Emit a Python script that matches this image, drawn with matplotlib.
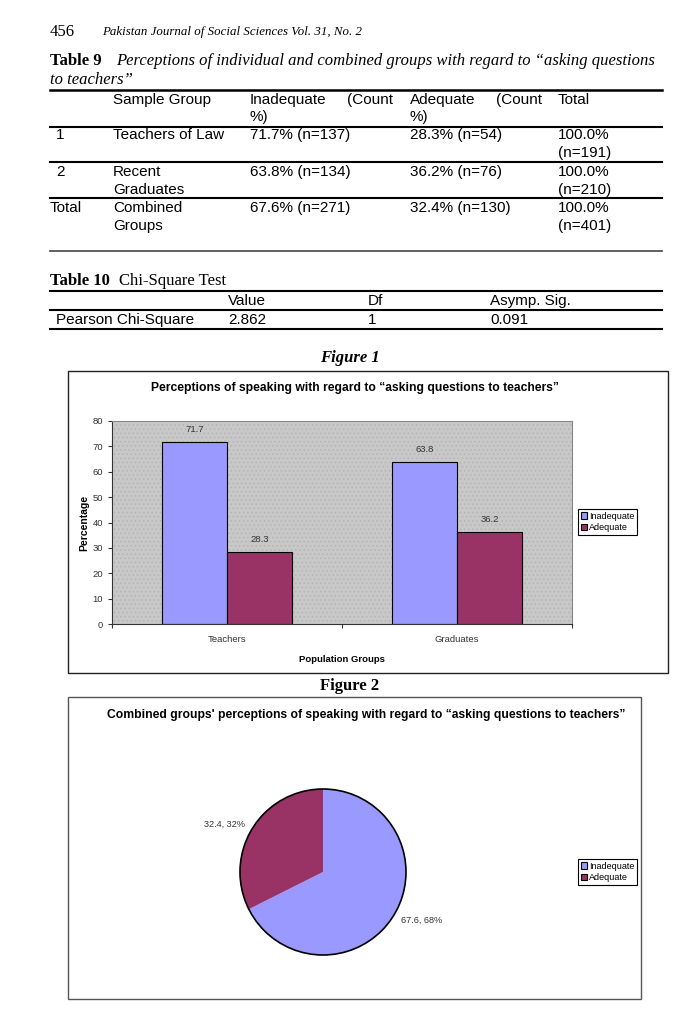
import matplotlib.pyplot as plt
from matplotlib.patches import Rectangle, Circle
from matplotlib.lines import Line2D
import numpy as np

# table 9
row_ids = ["1", "2", "Total"]
sample_groups = [["Teachers of Law"], ["Recent", "Graduates"], ["Combined", "Groups"]]
inadequate_cells = ["71.7% (n=137)", "63.8% (n=134)", "67.6% (n=271)"]
adequate_cells = ["28.3% (n=54)", "36.2% (n=76)", "32.4% (n=130)"]
total_cells = [["100.0%", "(n=191)"], ["100.0%", "(n=210)"], ["100.0%", "(n=401)"]]

# table 10
chi_headers = ["Value", "Df", "Asymp. Sig."]
chi_row = ["Pearson Chi-Square", "2.862", "1", "0.091"]

# figure 1
groups = ["Teachers", "Graduates"]
inadequate = [71.7, 63.8]
adequate = [28.3, 36.2]

# figure 2
pie_labels = ["Inadequate", "Adequate"]
pie_values = [67.6, 32.4]

c_inad = "#9999ff"
c_adeq = "#993366"
serif = "Liberation Serif"
sans = "Liberation Sans"
plt.rcParams["hatch.linewidth"] = 0.6

W, H = 700, 1010
fig = plt.figure(figsize=(7, 10.1), dpi=100)


def T(x, y, s, **kw):
    kw.setdefault("va", "center")
    return fig.text(x / W, 1 - y / H, s, **kw)


def hline(y, x0=50, x1=662, lw=1.5, color="black"):
    fig.add_artist(Line2D([x0 / W, x1 / W], [1 - y / H] * 2, lw=lw, color=color))


# page header
T(50, 32, "456", family=serif, size=12)
T(102, 32, "Pakistan Journal of Social Sciences Vol. 31, No. 2", family=serif, style="italic", size=9.3)

# ---- Table 9
cs = 12
T(50, 61, "Table 9", family=serif, weight="bold", size=cs)
T(116, 61, "Perceptions of individual and combined groups with regard to \u201casking questions",
  family=serif, style="italic", size=cs)
T(50, 80, "to teachers\u201d", family=serif, style="italic", size=cs)

ts = 11
hline(90, lw=1.8)
T(113, 100, "Sample Group", family=sans, size=ts)
T(250, 100, "Inadequate", family=sans, size=ts)
T(393, 100, "(Count", family=sans, size=ts, ha="right")
T(250, 117, "%)", family=sans, size=ts)
T(410, 100, "Adequate", family=sans, size=ts)
T(542, 100, "(Count", family=sans, size=ts, ha="right")
T(410, 117, "%)", family=sans, size=ts)
T(558, 100, "Total", family=sans, size=ts)
hline(127)

row_y = [135, 172, 208]
for i in range(3):
    y = row_y[i]
    T(56 if i < 2 else 50, y, row_ids[i], family=sans, size=ts, ha="left")
    for j, s in enumerate(sample_groups[i]):
        T(113, y + 18 * j, s, family=sans, size=ts)
    T(250, y, inadequate_cells[i], family=sans, size=ts)
    T(410, y, adequate_cells[i], family=sans, size=ts)
    for j, s in enumerate(total_cells[i]):
        T(558, y + 18 * j, s, family=sans, size=ts)
hline(162)
hline(198)
hline(251, lw=1.2, color="#444444")

# ---- Table 10
T(50, 281, "Table 10", family=serif, weight="bold", size=cs)
T(119, 281, "Chi-Square Test", family=serif, size=cs)
hline(291)
for s, x in zip(chi_headers, [228, 368, 490]):
    T(x, 301, s, family=sans, size=ts)
hline(310)
for s, x in zip(chi_row, [56, 228, 368, 490]):
    T(x, 320, s, family=sans, size=ts)
hline(329)

# ---- Figure 1
T(350, 358, "Figure 1", family=serif, weight="bold", style="italic", size=cs, ha="center")
fig.add_artist(Rectangle((68 / W, 1 - 673 / H), 600 / W, 302 / H, transform=fig.transFigure,
                         fill=False, ec="#222222", lw=1))
T(355, 388, "Perceptions of speaking with regard to \u201casking questions to teachers\u201d",
  family=sans, weight="bold", size=8.7, ha="center")

ax = fig.add_axes([112 / W, 1 - 624 / H, 460 / W, 203 / H])
ax.patch.set_facecolor("#c8c8c8")
ax.patch.set_edgecolor("#b4b4b4")
ax.patch.set_hatch("....")
x = np.arange(len(groups))
w = 0.283
b1 = ax.bar(x - w / 2, inadequate, w, color=c_inad, edgecolor="black", lw=0.8, label="Inadequate")
b2 = ax.bar(x + w / 2, adequate, w, color=c_adeq, edgecolor="black", lw=0.8, label="Adequate")
for b in (b1, b2):
    ax.bar_label(b, fmt="%.1f", padding=6, fontsize=6.8, color="#333333", family=sans)
ax.set_xlim(-0.5, 1.5)
ax.set_ylim(0, 80)
ax.set_yticks(range(0, 81, 10))
ax.set_xticks([-0.5, 0.5, 1.5])
ax.set_xticklabels([])
ax.set_xticks(x, minor=True)
ax.set_xticklabels(groups, minor=True)
ax.tick_params(axis="both", which="major", length=3, width=0.8, labelsize=6.8, colors="#333333")
ax.tick_params(axis="x", which="minor", length=0, pad=8, labelsize=6.8, colors="#333333")
for lab in ax.get_yticklabels() + ax.get_xticklabels(minor=True):
    lab.set_family(sans)
for s in ("top", "right"):
    ax.spines[s].set_color("#888888")
    ax.spines[s].set_lw(0.8)
for s in ("left", "bottom"):
    ax.spines[s].set_color("#333333")
    ax.spines[s].set_lw(0.8)
ax.set_ylabel("Percentage", family=sans, weight="bold", size=7.5)
ax.yaxis.set_label_coords(-0.05, 0.5)
ax.set_xlabel("Population Groups", family=sans, weight="bold", size=6.8)
ax.xaxis.set_label_coords(0.5, -0.153)

leg_kw = dict(loc="center left", bbox_transform=fig.transFigure, prop=dict(family=sans, size=6.5),
              frameon=True, fancybox=False, edgecolor="black", framealpha=1, borderpad=0.3,
              handlelength=0.7, handleheight=0.7, handletextpad=0.2, labelspacing=0.3,
              borderaxespad=0)
leg = ax.legend(bbox_to_anchor=(578 / W, 1 - 522 / H), **leg_kw)
leg.get_frame().set_lw(0.8)

# ---- Figure 2
T(350, 686, "Figure 2", family=serif, weight="bold", size=cs, ha="center")
fig.add_artist(Rectangle((68 / W, 1 - 999 / H), 573 / W, 302 / H, transform=fig.transFigure,
                         fill=False, ec="#555555", lw=1))
T(366, 715, "Combined groups' perceptions of speaking with regard to \u201casking questions to teachers\u201d",
  family=sans, weight="bold", size=8.7, ha="center")

pax = fig.add_axes([(323 - 90) / W, 1 - (872 + 90) / H, 180 / W, 180 / H])
tot = sum(pie_values)
texts_lab = [f"{v}, {round(100 * v / tot)}%" for v in pie_values]
pie_colors = [c_inad, c_adeq]
wedges, texts = pax.pie(pie_values, colors=pie_colors, startangle=90, counterclock=False,
                        labels=texts_lab, labeldistance=1.1,
                        textprops=dict(size=6.6, color="#333333", family=sans),
                        wedgeprops=dict(lw=0))
pax.add_patch(Circle((0, 0), 1, fill=False, ec="black", lw=1.2))
pax.set_xlim(-90 / 83, 90 / 83)
pax.set_ylim(-90 / 83, 90 / 83)
handles = [Rectangle((0, 0), 1, 1, fc=c, ec="black", lw=0.8) for c in pie_colors]
leg2 = pax.legend(handles, pie_labels, bbox_to_anchor=(578 / W, 1 - 872 / H), **leg_kw)
leg2.get_frame().set_lw(0.8)

fig.savefig("out.png", dpi=100)
